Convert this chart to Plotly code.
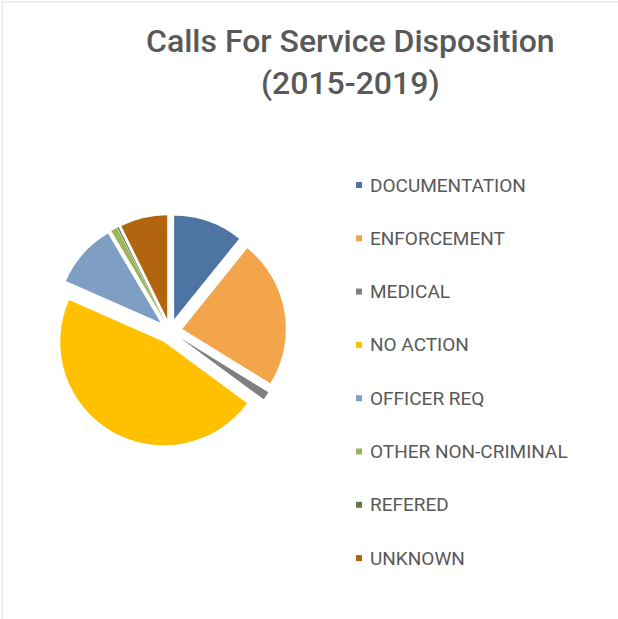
import plotly.graph_objects as go

# Share of calls for service by disposition, 2015-2019 (percent)
labels = ["DOCUMENTATION", "ENFORCEMENT", "MEDICAL", "NO ACTION",
          "OFFICER REQ", "OTHER NON-CRIMINAL", "REFERED", "UNKNOWN"]
shares = [10.8, 23.0, 1.3, 46.5, 9.9, 1.0, 0.2, 7.3]
colors = ["#4E74A3", "#F2A54A", "#7F7F7F", "#FFC000",
          "#7F9EC4", "#9DB45E", "#5E7A46", "#B3640F"]

W, H = 618, 619
FONT = "Roboto"
TEXT_COLOR = "#595959"

fig = go.Figure(go.Pie(
    labels=labels,
    values=shares,
    sort=False,
    direction="clockwise",
    rotation=0,
    pull=[0.12] * len(labels),
    marker=dict(colors=colors, line=dict(width=0)),
    textinfo="none",
    hoverinfo="label+percent",
    showlegend=False,
    domain=dict(x=[54 / W, 286 / W], y=[1 - 447 / H, 1 - 215 / H]),
))

# Legend drawn as small squares plus labels, one row per category
shapes = []
annotations = []
row0, row_step = 185, 53.3
for i, (lab, col) in enumerate(zip(labels, colors)):
    yc = row0 + i * row_step
    shapes.append(dict(type="rect", xref="paper", yref="paper",
                       x0=356 / W, x1=362 / W,
                       y0=1 - (yc + 3) / H, y1=1 - (yc - 3) / H,
                       fillcolor=col, line=dict(width=0)))
    annotations.append(dict(text=lab, xref="paper", yref="paper",
                            x=368 / W, y=1 - yc / H,
                            xanchor="left", yanchor="middle", showarrow=False,
                            font=dict(family=FONT, size=19, color=TEXT_COLOR)))

# Thin chart-area border along the top and left edges
shapes.append(dict(type="line", xref="paper", yref="paper",
                   x0=2 / W, x1=1, y0=1 - 2 / H, y1=1 - 2 / H,
                   line=dict(color="#D9D9D9", width=1)))
shapes.append(dict(type="line", xref="paper", yref="paper",
                   x0=2 / W, x1=2 / W, y0=0, y1=1 - 2 / H,
                   line=dict(color="#D9D9D9", width=1)))

annotations.append(dict(text="Calls For Service Disposition<br>(2015-2019)",
                        xref="paper", yref="paper", x=350 / W, y=1 - 20 / H,
                        xanchor="center", yanchor="top", showarrow=False,
                        align="center",
                        font=dict(family=FONT, size=32, weight=500,
                                  color=TEXT_COLOR)))

fig.update_layout(
    width=W, height=H,
    margin=dict(l=0, r=0, t=0, b=0),
    paper_bgcolor="white",
    plot_bgcolor="white",
    shapes=shapes,
    annotations=annotations,
)

fig.write_html("out.html")
